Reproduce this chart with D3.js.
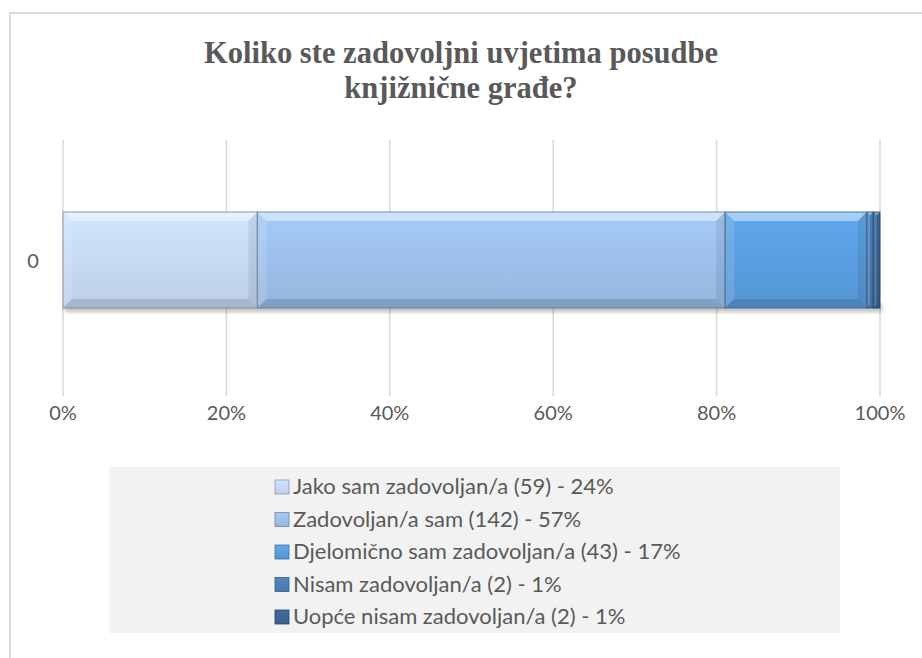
<!DOCTYPE html>
<html>
<head>
<meta charset="utf-8">
<style>
body { margin: 0; background: #fff; }
text { font-family: Lato, "Open Sans", sans-serif; }
</style>
</head>
<body>
<script src="https://cdn.jsdelivr.net/npm/d3@7/dist/d3.min.js"></script>
<script>
// data
var categories = ["0"];
var seriesNames = [
  "Jako sam zadovoljan/a (59) - 24%",
  "Zadovoljan/a sam (142) - 57%",
  "Djelomično sam zadovoljan/a (43) - 17%",
  "Nisam zadovoljan/a (2) - 1%",
  "Uopće nisam zadovoljan/a (2) - 1%"
];
var counts = [59, 142, 43, 2, 2];
var tickLabels = ["0%", "20%", "40%", "60%", "80%", "100%"];
var colors = ["#c6daf4", "#9dc0ea", "#5a9ee0", "#4d80b8", "#3b6698"];

var width = 922, height = 658;

var svg = d3.select("body").append("svg")
    .attr("width", width)
    .attr("height", height);

// gradient per series, lighter on top
var defs = svg.append("defs");
colors.forEach(function(c, i) {
  var g = defs.append("linearGradient")
      .attr("id", "grad" + i)
      .attr("x1", 0).attr("y1", 0).attr("x2", 0).attr("y2", 1);
  g.append("stop").attr("offset", "0%").attr("stop-color", d3.color(c).brighter(0.15));
  g.append("stop").attr("offset", "100%").attr("stop-color", d3.color(c).darker(0.15));
});
var blur = defs.append("filter").attr("id", "shadow")
    .attr("x", "-5%").attr("y", "-20%").attr("width", "110%").attr("height", "140%");
blur.append("feGaussianBlur").attr("stdDeviation", 2);

// chart frame
svg.append("rect")
    .attr("x", 10).attr("y", 13)
    .attr("width", 930).attr("height", 700)
    .attr("fill", "#fff")
    .attr("stroke", "#d9d9d9")
    .attr("stroke-width", 2);

// title
var title = svg.append("text")
    .attr("text-anchor", "middle")
    .attr("fill", "#595959")
    .attr("transform", "translate(461,0) scale(0.955,1)")
    .style("font-family", "'Liberation Serif', serif")
    .style("font-weight", "bold")
    .style("font-size", "32px");
title.append("tspan").attr("x", 0).attr("y", 63).text("Koliko ste zadovoljni uvjetima posudbe");
title.append("tspan").attr("x", 0).attr("y", 98).text("knjižnične građe?");

var total = d3.sum(counts);
var x = d3.scaleLinear().domain([0, 1]).range([63, 880]);

// gridlines
svg.append("g")
    .selectAll("line")
    .data(d3.range(0, 1.01, 0.2))
    .enter().append("line")
    .attr("x1", function(d) { return x(d); })
    .attr("x2", function(d) { return x(d); })
    .attr("y1", 140).attr("y2", 396)
    .attr("stroke", "#d9d9d9")
    .attr("stroke-width", 1.5);

// tick labels
svg.append("g")
    .selectAll("text")
    .data(tickLabels)
    .enter().append("text")
    .attr("x", function(d, i) { return x(i * 0.2); })
    .attr("y", 420)
    .attr("text-anchor", "middle")
    .attr("fill", "#595959")
    .style("font-size", "20px")
    .text(function(d) { return d; });

svg.append("text")
    .attr("x", 33).attr("y", 268)
    .attr("text-anchor", "middle")
    .attr("fill", "#595959")
    .style("font-size", "20px")
    .text(categories[0]);

// stacked segments
var segs = [];
var acc = 0;
counts.forEach(function(c, i) {
  segs.push({x0: acc / total, x1: (acc + c) / total, i: i, color: colors[i]});
  acc += c;
});

var by0 = 212, by1 = 308;
var bev = 9;

// soft shadow under the bar
svg.append("rect")
    .attr("x", x(0) + 2).attr("y", by1 - 4)
    .attr("width", x(1) - x(0)).attr("height", 8)
    .attr("fill", "#000").attr("opacity", 0.25)
    .attr("filter", "url(#shadow)");

var seg = svg.append("g").selectAll("g")
    .data(segs)
    .enter().append("g");

seg.append("rect")
    .attr("x", function(d) { return x(d.x0); })
    .attr("y", by0)
    .attr("width", function(d) { return x(d.x1) - x(d.x0); })
    .attr("height", by1 - by0)
    .attr("fill", function(d) { return "url(#grad" + d.i + ")"; });

function bevel(d, side) {
  var l = x(d.x0), r = x(d.x1);
  var b = Math.min(bev, (r - l) / 2);
  if (side == "top") return [[l, by0], [r, by0], [r - b, by0 + b], [l + b, by0 + b]];
  if (side == "bottom") return [[l, by1], [r, by1], [r - b, by1 - b], [l + b, by1 - b]];
  if (side == "left") return [[l, by0], [l + b, by0 + b], [l + b, by1 - b], [l, by1]];
  return [[r, by0], [r - b, by0 + b], [r - b, by1 - b], [r, by1]];
}
var shades = {top: "rgba(255,255,255,0.45)", left: "rgba(255,255,255,0.12)",
              right: "rgba(0,0,0,0.08)", bottom: "rgba(0,0,0,0.12)"};
["top", "left", "right", "bottom"].forEach(function(side) {
  seg.append("polygon")
      .attr("points", function(d) { return bevel(d, side).join(" "); })
      .attr("fill", shades[side]);
});

seg.append("rect")
    .attr("x", function(d) { return x(d.x0); })
    .attr("y", by0)
    .attr("width", function(d) { return x(d.x1) - x(d.x0); })
    .attr("height", by1 - by0)
    .attr("fill", "none")
    .attr("stroke", function(d) { return d3.color(d.color).darker(1.3); })
    .attr("stroke-opacity", 0.7)
    .attr("stroke-width", 1.2);

// legend
svg.append("rect")
    .attr("x", 109).attr("y", 467)
    .attr("width", 731).attr("height", 166)
    .attr("fill", "#f2f2f2");

var legend = svg.append("g").selectAll("g")
    .data(seriesNames)
    .enter().append("g")
    .attr("transform", function(d, i) { return "translate(275," + (486 + i * 32.5) + ")"; });

legend.append("rect")
    .attr("x", 0).attr("y", -6)
    .attr("width", 14).attr("height", 14)
    .attr("fill", function(d, i) { return "url(#grad" + i + ")"; })
    .attr("stroke", function(d, i) { return d3.color(colors[i]).darker(1); })
    .attr("stroke-width", 0.8);

legend.append("text")
    .attr("x", 18).attr("y", 8)
    .attr("fill", "#595959")
    .style("font-size", "22px")
    .text(function(d) { return d; });
</script>
</body>
</html>
